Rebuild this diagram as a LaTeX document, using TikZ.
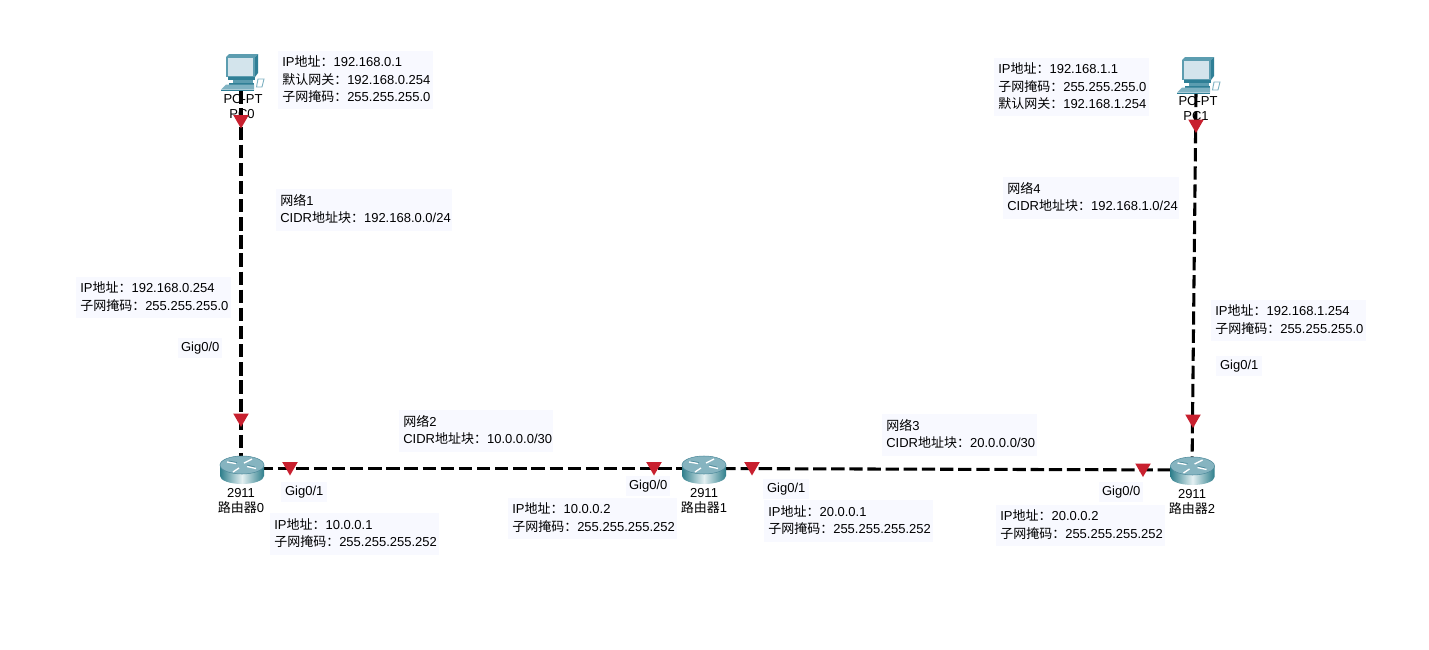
\documentclass[tikz,border=0pt]{standalone}
\usepackage{fontspec}
\setmainfont{Liberation Sans}
\newfontfamily\cjk{Noto Sans CJK SC}
\newcommand\zh[1]{{\cjk #1}}
\usetikzlibrary{shapes.geometric}
\definecolor{boxbg}{HTML}{F8F9FF}
\definecolor{mark}{HTML}{C8202F}
\definecolor{teal1}{HTML}{2F7F96}
\definecolor{teal0}{HTML}{5C9DB0}
\definecolor{teal2}{HTML}{D3E4EC}
\definecolor{teal3}{HTML}{7FB2C2}
\definecolor{rdark}{HTML}{2F7F8C}
\definecolor{rlight}{HTML}{E4F0F2}
\definecolor{rtop}{HTML}{86B4C0}
\definecolor{redge}{HTML}{4F8B9C}
\tikzset{
  x=0.75pt,y=-0.75pt,
  every node/.style={font=\fontsize{9.75pt}{13.1pt}\selectfont,text=black},
  lblbox/.style n args={2}{fill=boxbg,anchor=north west,align=left,inner xsep=3pt,inner ysep=0pt,
     text width=#1*0.75pt-6pt,minimum height=#2*0.75pt,execute at end node={\par\vspace{1.8pt}}},
  gigbox/.style n args={2}{fill=boxbg,anchor=north west,align=center,inner sep=0pt,
     minimum width=#1*0.75pt,minimum height=#2*0.75pt},
  devlabel/.style={align=center,inner sep=0pt},
  link/.style={line width=2.3pt,dash pattern=on 10pt off 3.6pt},
  port/.style={regular polygon,regular polygon sides=3,shape border rotate=180,fill=mark,inner sep=0pt,minimum size=13.5pt},
  attach/.style={inner sep=0pt,minimum size=0pt},
  pcicon/.pic={
    % monitor: top bevel, right side, front frame
    \fill[teal0] (-15,-15) -- (-12,-18) -- (17,-18) -- (14,-15) -- cycle;
    \fill[teal1] (14,-15) -- (17,-18) -- (17,1) -- (14,5) -- cycle;
    \fill[teal0] (-15,-15) rectangle (14,5);
    \fill[teal2] (-13,-14) rectangle (12,3.5);
    % base and stand
    \fill[teal1] (-13,5) -- (14,5) -- (14,8) -- (-13,8) -- cycle;
    \fill[teal0] (-8,8) rectangle (12,11);
    \fill[teal1] (-12,11) rectangle (13,12.5);
    % keyboard
    \fill[teal3] (-15,12.5) -- (-20,17.5) -- (13,17.5) -- (13,12.5) -- cycle;
    \fill[teal1] (-20,17.5) rectangle (13,18.5);
    % mouse
    \draw[teal3,line width=0.7pt,fill=white] (17,7) -- (23,7) -- (21,15) -- (15.5,15) -- cycle;
  },
  routericon/.pic={
    \shade[left color=rdark,right color=rdark,middle color=rlight]
      (-22,-5) -- (-22,6) arc[start angle=180,end angle=0,x radius=22,y radius=8] -- (22,-5) -- cycle;
    \fill[rtop,draw=redge,line width=0.4pt] (0,-5) ellipse[x radius=22,y radius=9];
    \draw[white,line width=1pt]
      (-15,-8) -- (-6,-6.5) (5,-3.5) -- (14,-1.5)
      (2,-7) -- (10,-11) (-3,-2) -- (-9,2);
    \draw[redge,line width=0.5pt]
      (-13,-9) -- (-5,-7.5) (5,-5) -- (13,-3);
  }
}
\begin{document}
\begin{tikzpicture}
\useasboundingbox[fill=white] (0,0) rectangle (1429,650);

% connection points
\node[attach] (pc0) at (241,90) {};
\node[attach] (r0) at (241,468.5) {};
\node[attach] (r1) at (704,468.5) {};
\node[attach] (r2) at (1192,470) {};
\node[attach] (pc1) at (1196,93) {};

% links
\draw[link] (pc0) -- (r0);
\draw[link] (r0) -- (r1);
\draw[link] (r1) -- (r2);
\draw[link] (r2) -- (pc1);

% device icons
\pic at (241,72) {pcicon};
\pic at (1197,75) {pcicon};
\pic at (242,470) {routericon};
\pic at (704,470) {routericon};
\pic at (1192.5,471) {routericon};

% device labels
\node[devlabel] (pc0a) at (243,99) {PC-PT};
\node[devlabel] (pc0b) at (242,114) {PC0};
\node[devlabel] (pc1a) at (1198,101) {PC-PT};
\node[devlabel] (pc1b) at (1196,116) {PC1};
\node[devlabel] (r0a) at (241,493) {2911};
\node[devlabel] (r0b) at (241,508) {\zh{路由器}0};
\node[devlabel] (r1a) at (704,493) {2911};
\node[devlabel] (r1b) at (704,508) {\zh{路由器}1};
\node[devlabel] (r2a) at (1192,494) {2911};
\node[devlabel] (r2b) at (1192,509) {\zh{路由器}2};

% port markers
\node[port] (m1) at (241,119.5) {};
\node[port] (m2) at (241,418) {};
\node[port] (m3) at (290,466.5) {};
\node[port] (m4) at (654,466.5) {};
\node[port] (m5) at (752,466.5) {};
\node[port] (m6) at (1143,468) {};
\node[port] (m7) at (1196,124) {};
\node[port] (m8) at (1193,419) {};

% address boxes
\node[lblbox={155}{58}] (a1) at (278,51) {IP\zh{地址：}192.168.0.1\\\zh{默认网关：}192.168.0.254\\\zh{子网掩码：}255.255.255.0};
\node[lblbox={155}{58}] (a2) at (994,58) {IP\zh{地址：}192.168.1.1\\\zh{子网掩码：}255.255.255.0\\\zh{默认网关：}192.168.1.254};
\node[lblbox={176}{42}] (n1) at (276,189) {\zh{网络}1\\CIDR\zh{地址块：}192.168.0.0/24};
\node[lblbox={176}{42}] (n4) at (1003,177) {\zh{网络}4\\CIDR\zh{地址块：}192.168.1.0/24};
\node[lblbox={155}{41}] (a3) at (76,277) {IP\zh{地址：}192.168.0.254\\\zh{子网掩码：}255.255.255.0};
\node[lblbox={155}{41}] (a4) at (1211,300) {IP\zh{地址：}192.168.1.254\\\zh{子网掩码：}255.255.255.0};
\node[lblbox={154}{42}] (n2) at (399,410) {\zh{网络}2\\CIDR\zh{地址块：}10.0.0.0/30};
\node[lblbox={155}{42}] (n3) at (882,414) {\zh{网络}3\\CIDR\zh{地址块：}20.0.0.0/30};
\node[lblbox={169}{42}] (a5) at (270,513) {IP\zh{地址：}10.0.0.1\\\zh{子网掩码：}255.255.255.252};
\node[lblbox={169}{41}] (a6) at (508,498) {IP\zh{地址：}10.0.0.2\\\zh{子网掩码：}255.255.255.252};
\node[lblbox={169}{42}] (a7) at (764,500) {IP\zh{地址：}20.0.0.1\\\zh{子网掩码：}255.255.255.252};
\node[lblbox={169}{41}] (a8) at (996,505) {IP\zh{地址：}20.0.0.2\\\zh{子网掩码：}255.255.255.252};

% interface labels
\node[gigbox={44}{20}] (g1) at (178,338) {Gig0/0};
\node[gigbox={46}{20}] (g2) at (281,482) {Gig0/1};
\node[gigbox={44}{20}] (g3) at (626,476) {Gig0/0};
\node[gigbox={46}{20}] (g4) at (763,479) {Gig0/1};
\node[gigbox={44}{20}] (g5) at (1099,482) {Gig0/0};
\node[gigbox={46}{20}] (g6) at (1216,356) {Gig0/1};
\end{tikzpicture}
\end{document}
